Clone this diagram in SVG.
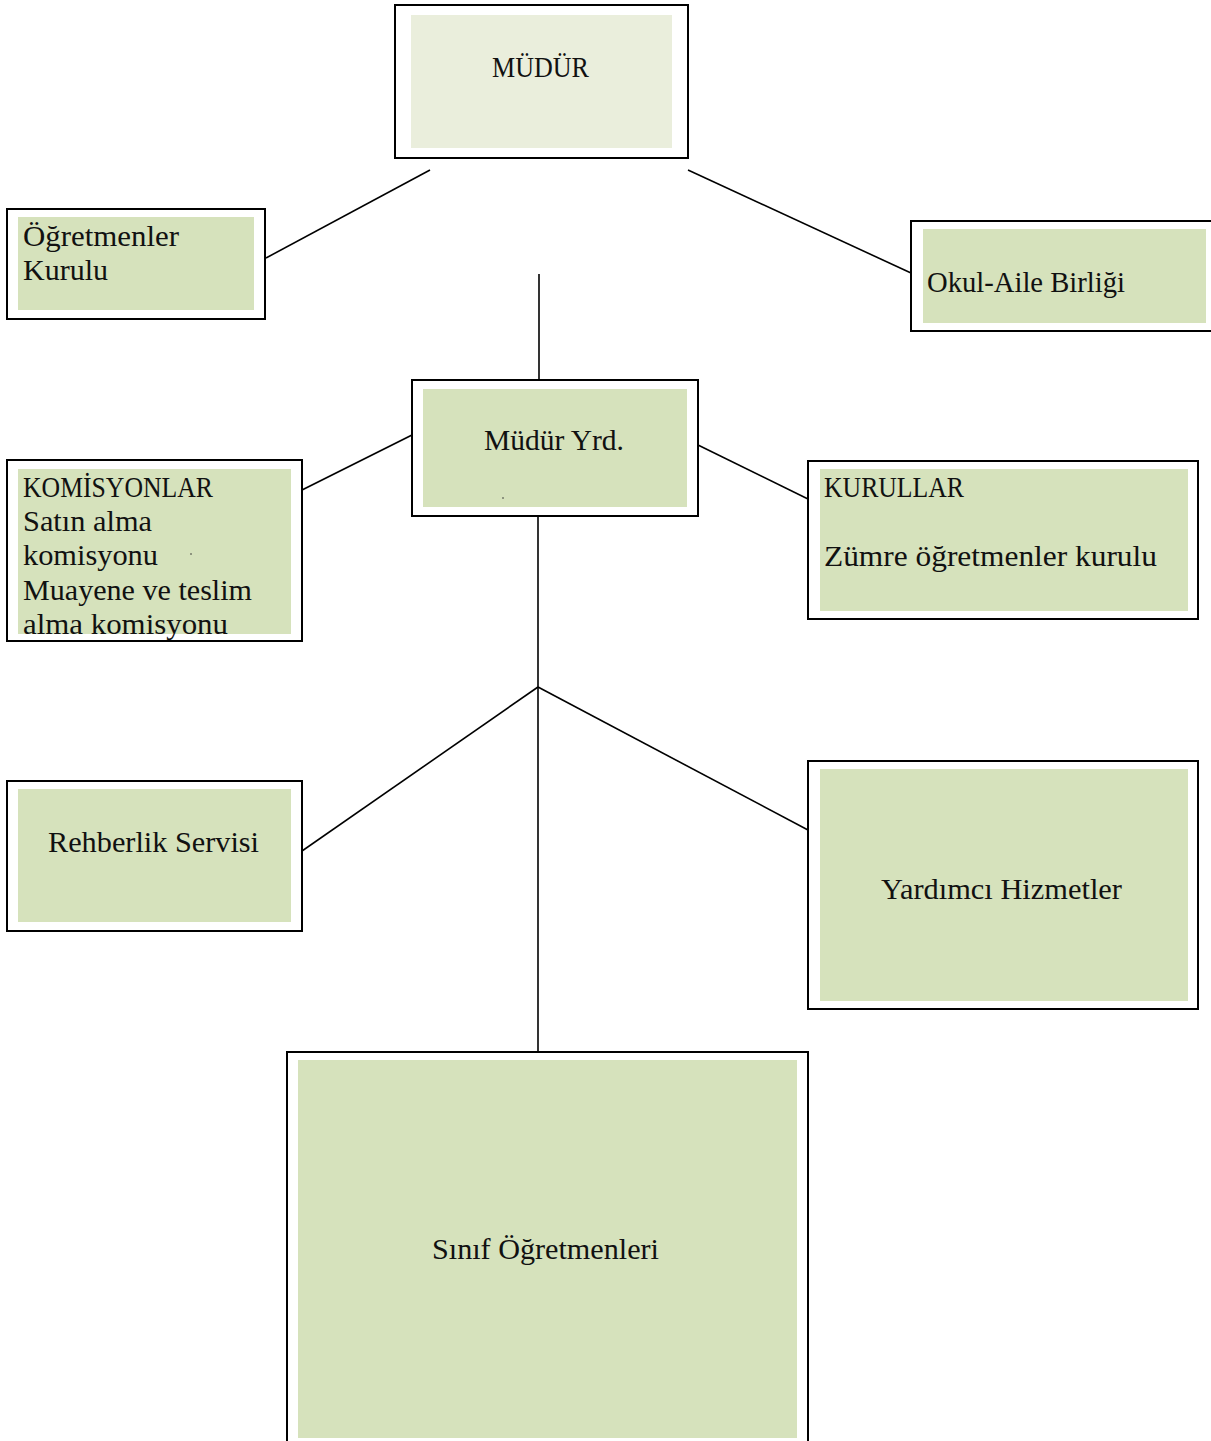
<svg xmlns="http://www.w3.org/2000/svg" width="1211" height="1441" viewBox="0 0 1211 1441">
<style>
.frame{fill:#ffffff;stroke:#000000;stroke-width:2}
.fill{fill:#d6e2bc;stroke:none}
.fill-light{fill:#eaeedc;stroke:none}
.t{font-family:"Liberation Serif","DejaVu Serif",serif;font-size:30px;fill:#111111}
.conn line{stroke:#000000;stroke-width:1.6}
</style>
<rect width="1211" height="1441" fill="#ffffff"/>
<g class="conn" id="connectors">
<line x1="430" y1="170" x2="266" y2="258"/>
<line x1="688" y1="170" x2="911" y2="273"/>
<line x1="539" y1="274" x2="539" y2="380"/>
<line x1="412" y1="435" x2="302" y2="490"/>
<line x1="698" y1="445" x2="808" y2="499"/>
<line x1="538" y1="516" x2="538" y2="1052"/>
<line x1="538" y1="687" x2="302" y2="851"/>
<line x1="538" y1="687" x2="808" y2="830"/>
</g>
<g id="mudur">
<rect class="frame" x="395" y="5" width="293" height="153"/>
<rect class="fill-light" x="411" y="15" width="261" height="133"/>
<text class="t" x="492" y="77" textLength="97" lengthAdjust="spacingAndGlyphs">MÜDÜR</text>
</g>
<g id="ogretmenler-kurulu">
<rect class="frame" x="7" y="209" width="258" height="110"/>
<rect class="fill" x="18" y="217" width="236" height="93"/>
<text class="t" x="23" y="246" textLength="156" lengthAdjust="spacingAndGlyphs">Öğretmenler</text>
<text class="t" x="23" y="280" textLength="85" lengthAdjust="spacingAndGlyphs">Kurulu</text>
</g>
<g id="okul-aile">
<rect class="frame" x="911" y="221" width="310" height="110"/>
<rect class="fill" x="923" y="229" width="283" height="94"/>
<text class="t" x="927" y="292" textLength="198" lengthAdjust="spacingAndGlyphs">Okul-Aile Birliği</text>
</g>
<g id="mudur-yrd">
<rect class="frame" x="412" y="380" width="286" height="136"/>
<rect class="fill" x="423" y="389" width="264" height="118"/>
<text class="t" x="484" y="450" textLength="140" lengthAdjust="spacingAndGlyphs">Müdür Yrd.</text>
<circle cx="503" cy="498" r="0.8" fill="#333"/>
</g>
<g id="komisyonlar">
<rect class="frame" x="7" y="460" width="295" height="181"/>
<rect class="fill" x="18" y="469" width="273" height="165"/>
<text class="t" x="23" y="497" textLength="190" lengthAdjust="spacingAndGlyphs">KOMİSYONLAR</text>
<text class="t" x="23" y="531" textLength="129" lengthAdjust="spacingAndGlyphs">Satın alma</text>
<text class="t" x="23" y="565" textLength="135" lengthAdjust="spacingAndGlyphs">komisyonu</text>
<text class="t" x="23" y="600" textLength="229" lengthAdjust="spacingAndGlyphs">Muayene ve teslim</text>
<text class="t" x="23" y="634" textLength="205" lengthAdjust="spacingAndGlyphs">alma komisyonu</text>
<circle cx="191" cy="554" r="0.8" fill="#333"/>
</g>
<g id="kurullar">
<rect class="frame" x="808" y="461" width="390" height="158"/>
<rect class="fill" x="820" y="469" width="368" height="142"/>
<text class="t" x="824" y="497" textLength="140" lengthAdjust="spacingAndGlyphs">KURULLAR</text>
<text class="t" x="824" y="566" textLength="333" lengthAdjust="spacingAndGlyphs">Zümre öğretmenler kurulu</text>
</g>
<g id="rehberlik">
<rect class="frame" x="7" y="781" width="295" height="150"/>
<rect class="fill" x="18" y="789" width="273" height="133"/>
<text class="t" x="48" y="852" textLength="211" lengthAdjust="spacingAndGlyphs">Rehberlik Servisi</text>
</g>
<g id="yardimci">
<rect class="frame" x="808" y="761" width="390" height="248"/>
<rect class="fill" x="820" y="769" width="368" height="232"/>
<text class="t" x="881" y="899" textLength="241" lengthAdjust="spacingAndGlyphs">Yardımcı Hizmetler</text>
</g>
<g id="sinif">
<rect class="frame" x="287" y="1052" width="521" height="400"/>
<rect class="fill" x="298" y="1060" width="499" height="378"/>
<text class="t" x="432" y="1259" textLength="227" lengthAdjust="spacingAndGlyphs">Sınıf Öğretmenleri</text>
</g>
</svg>
